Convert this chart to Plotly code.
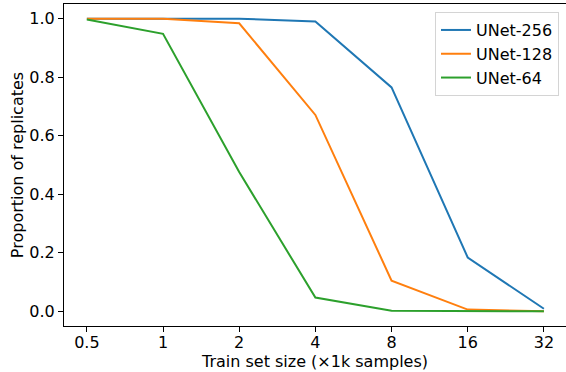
import plotly.graph_objects as go

sizes = ["0.5", "1", "2", "4", "8", "16", "32"]
unet256 = [1.0, 1.0, 1.0, 0.99, 0.765, 0.184, 0.009]
unet128 = [1.0, 1.0, 0.984, 0.671, 0.105, 0.006, 0.0]
unet64 = [0.997, 0.948, 0.476, 0.047, 0.002, 0.0, 0.0]

series = [("UNet-256", unet256, "#1f77b4"),
          ("UNet-128", unet128, "#ff7f0e"),
          ("UNet-64", unet64, "#2ca02c")]

fig = go.Figure()
idx = list(range(len(sizes)))
for name, vals, col in series:
    fig.add_trace(go.Scatter(x=idx, y=vals, mode="lines", name=name,
                             legendgroup=name,
                             line=dict(color=col, width=2)))

tickfont = dict(family="DejaVu Sans", size=16, color="black")
titlefont = dict(family="DejaVu Sans", size=16, color="black")
fig.update_layout(
    width=566, height=372,
    margin=dict(l=64, r=0, t=4, b=46),
    paper_bgcolor="white", plot_bgcolor="white",
    font=titlefont,
    showlegend=True,
    legend=dict(x=0.986, y=0.975, xanchor="right", yanchor="top",
                bordercolor="#d4d4d4", borderwidth=1, bgcolor="white",
                font=dict(family="DejaVu Sans", size=16, color="black"),
                tracegroupgap=0),
    xaxis=dict(range=[-0.3, 6.29], tickmode="array", tickvals=idx, ticktext=sizes,
               showgrid=False, zeroline=False, showline=True, linecolor="black",
               linewidth=1, mirror=True, ticks="outside", ticklen=5,
               tickcolor="black", tickfont=tickfont, ticklabelstandoff=-3,
               title=dict(text="Train set size (×1k samples)", standoff=0,
                          font=titlefont)),
    yaxis=dict(range=[-0.05, 1.05], tickvals=[0, 0.2, 0.4, 0.6, 0.8, 1.0],
               tickformat=".1f",
               showgrid=False, zeroline=False, showline=True, linecolor="black",
               linewidth=1, mirror=True, ticks="outside", ticklen=5,
               tickcolor="black", tickfont=tickfont,
               title=dict(text="Proportion of replicates", standoff=1,
                          font=titlefont)),
)

fig.write_html("out.html", config={"displayModeBar": False},
               post_script="document.body.style.margin='0px';document.body.style.padding='0px';")
